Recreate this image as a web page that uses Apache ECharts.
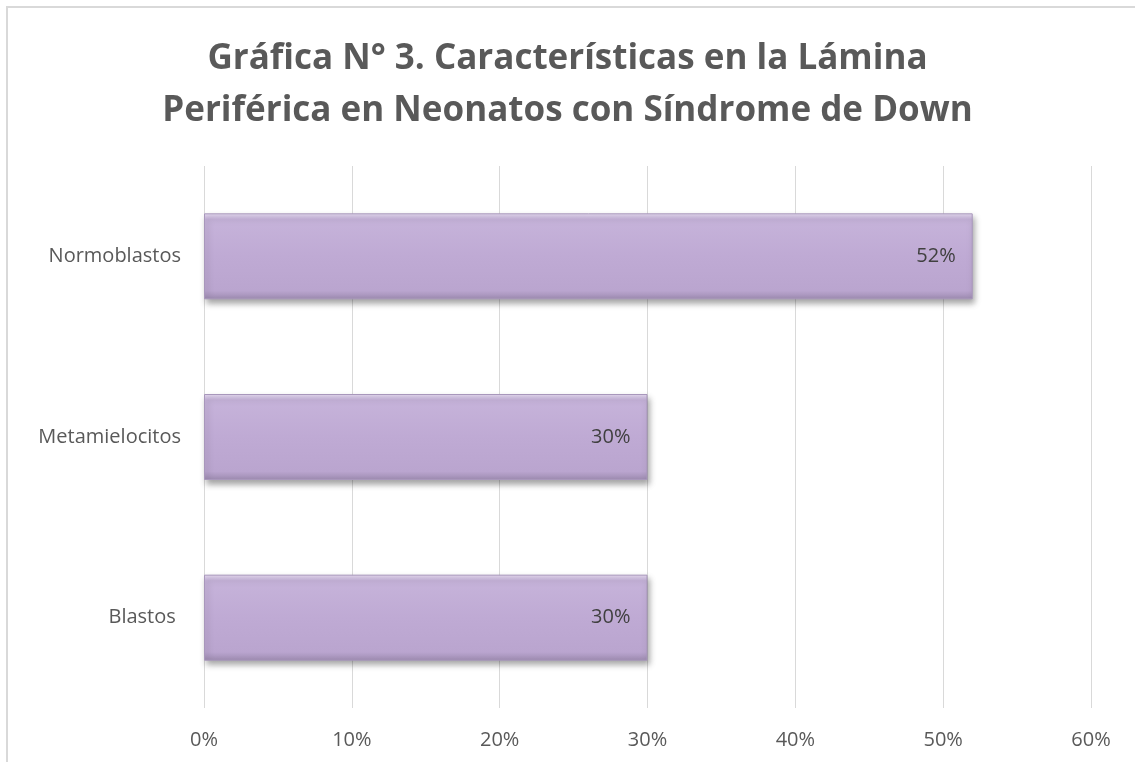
<!DOCTYPE html>
<html>
<head>
<meta charset="utf-8">
<script src="https://cdn.jsdelivr.net/npm/echarts@6/dist/echarts.min.js"></script>
<style>
  html, body { margin: 0; padding: 0; background: #fff; }
  #grafica { width: 1135px; height: 762px; }
</style>
</head>
<body>
<div id="grafica"></div>
<script>
// datos de la grafica
var categorias = ['Blastos ', 'Metamielocitos', 'Normoblastos'];
var porcentajes = [30, 30, 52];
var titulo = 'Gráfica N° 3. Características en la Lámina\nPeriférica en Neonatos con Síndrome de Down';

var mychart = echarts.init(document.getElementById('grafica'));

mychart.setOption({
    backgroundColor: '#ffffff',
    title: {
        text: titulo,
        left: 'center',
        top: 28,
        textStyle: {
            fontFamily: 'Open Sans',
            fontWeight: 'bold',
            fontSize: 35,
            lineHeight: 52,
            color: '#595959'
        }
    },
    graphic: [{
        type: 'rect',
        shape: { x: 7, y: 7, width: 1200, height: 800 },
        style: { fill: 'none', stroke: '#d9d9d9', lineWidth: 2 },
        silent: true
    }],
    grid: { left: 204, right: 44, top: 166, bottom: 54 },
    xAxis: {
        type: 'value',
        min: 0,
        max: 60,
        interval: 10,
        axisLine: { show: false },
        axisTick: { show: false },
        splitLine: { lineStyle: { color: '#d9d9d9', width: 1 } },
        axisLabel: {
            formatter: '{value}%',
            margin: 22,
            fontFamily: 'Open Sans',
            fontSize: 20,
            color: '#595959'
        }
    },
    yAxis: {
        type: 'category',
        data: categorias,
        axisLine: { show: false },
        axisTick: { show: false },
        axisLabel: {
            margin: 23,
            fontFamily: 'Open Sans',
            fontSize: 20,
            color: '#595959'
        }
    },
    series: [{
        type: 'bar',
        data: porcentajes,
        barWidth: 86,
        itemStyle: {
            color: new echarts.graphic.LinearGradient(0, 0, 0, 1, [
                { offset: 0, color: '#e6dbf1' },
                { offset: 0.07, color: '#c6b3da' },
                { offset: 0.5, color: '#bfaad4' },
                { offset: 0.9, color: '#baa5cf' },
                { offset: 1, color: '#9d8bb0' }
            ]),
            borderColor: '#a897bb',
            borderWidth: 1,
            shadowColor: 'rgba(0,0,0,0.35)',
            shadowBlur: 6,
            shadowOffsetX: 2,
            shadowOffsetY: 4
        },
        label: {
            show: true,
            position: 'insideRight',
            distance: 17,
            formatter: '{c}%',
            fontFamily: 'Open Sans',
            fontSize: 20,
            color: '#404040'
        }
    }]
});
</script>
</body>
</html>
